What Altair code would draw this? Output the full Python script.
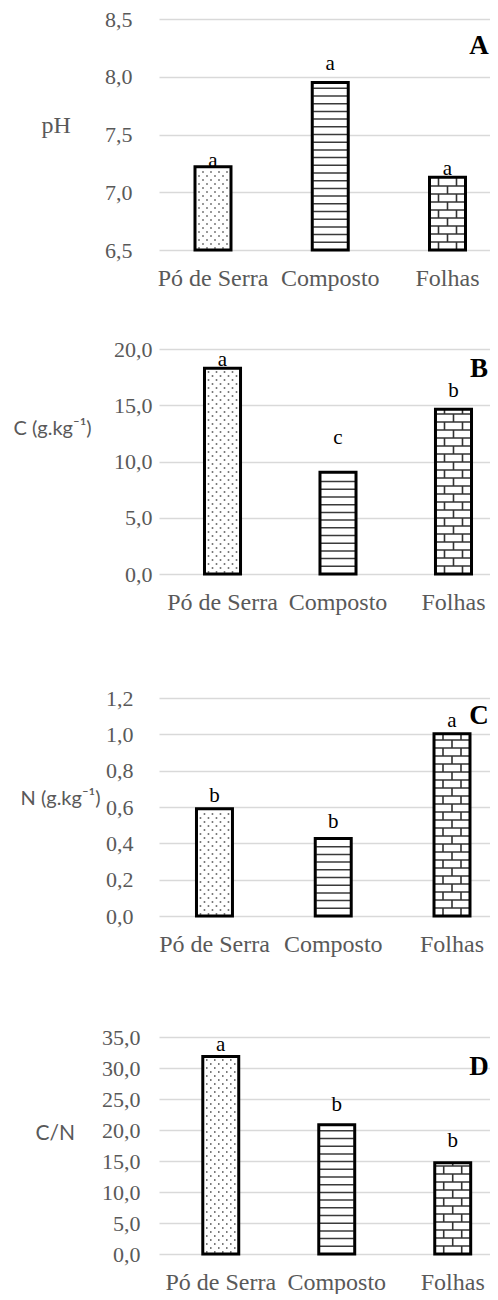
import altair as alt
import numpy as np
import pandas as pd

# ---------------- data ----------------
categories = ["Pó de Serra", "Composto", "Folhas"]

ph_values = [7.22, 7.95, 7.13]
ph_letters = ["a", "a", "a"]
ph_letter_y = [7.27, 8.11, 7.20]
ph_ticks = [6.5, 7.0, 7.5, 8.0, 8.5]

c_values = [18.28, 9.04, 14.64]
c_letters = ["a", "c", "b"]
c_letter_y = [19.0, 12.05, 16.3]
c_ticks = [0.0, 5.0, 10.0, 15.0, 20.0]

n_values = [0.590, 0.427, 1.003]
n_letters = ["b", "b", "a"]
n_letter_y = [0.66, 0.517, 1.072]
n_ticks = [0.0, 0.2, 0.4, 0.6, 0.8, 1.0, 1.2]

cn_values = [31.84, 20.83, 14.71]
cn_letters = ["a", "b", "b"]
cn_letter_y = [33.7, 24.1, 18.3]
cn_ticks = [0.0, 5.0, 10.0, 15.0, 20.0, 25.0, 30.0, 35.0]

# ---------------- style ----------------
SERIF = "Liberation Serif, Times New Roman, Times, serif"
SANS = "Lato, Carlito, Calibri, Open Sans, sans-serif"
GRAY = "#595959"
W = 331

panels = [
    dict(vals=ph_values, letters=ph_letters, ly=ph_letter_y, ticks=ph_ticks,
         title="pH", tfont=SERIF, tsize=24, tx=-118, ty=106, lpad=27, h=231,
         pi=0.693, po=0.258, align=0.595, tag="A", tagdx=31.5, tagy=27),
    dict(vals=c_values, letters=c_letters, ly=c_letter_y, ticks=c_ticks,
         title="C (g.kg⁻¹)", tfont=SANS, tsize=20, tx=-146, ty=79, lpad=7, h=225,
         pi=0.688, po=0.277, align=0.711, tag="B", tagdx=25.5, tagy=20),
    dict(vals=n_values, letters=n_letters, ly=n_letter_y, ticks=n_ticks,
         title="N (g.kg⁻¹)", tfont=SANS, tsize=20, tx=-139, ty=100, lpad=26, h=218,
         pi=0.697, po=0.242, align=0.652, tag="C", tagdx=27, tagy=18),
    dict(vals=cn_values, letters=cn_letters, ly=cn_letter_y, ticks=cn_ticks,
         title="C/N", tfont=SANS, tsize=21, tx=-124, ty=96, lpad=19, h=217,
         pi=0.690, po=0.272, align=0.694, tag="D", tagdx=26.3, tagy=30),
]


def make_panel(p):
    lo, hi = p["ticks"][0], p["ticks"][-1]
    upp = (hi - lo) / p["h"]  # data units per pixel
    vals = p["vals"]

    xscale = alt.Scale(domain=categories, paddingInner=p["pi"],
                       paddingOuter=p["po"], align=p["align"])
    yscale = alt.Scale(domain=[lo, hi], zero=False, nice=False)
    xaxis = alt.Axis(title=None, labelAngle=0, labelFont=SERIF, labelFontSize=24,
                     labelColor=GRAY, labelPadding=16, ticks=False, tickSize=0,
                     domain=False, grid=False)
    yaxis = alt.Axis(values=p["ticks"], title=p["title"], titleAngle=0,
                     titleAlign="left", titleBaseline="middle",
                     titleX=p["tx"], titleY=p["ty"], titleFont=p["tfont"],
                     titleFontSize=p["tsize"], titleFontWeight="normal",
                     titleColor=GRAY, labelFont=SERIF, labelFontSize=22,
                     labelColor=GRAY, labelPadding=p["lpad"], ticks=False,
                     tickSize=0, domain=False, grid=True, gridColor="#d9d9d9",
                     gridWidth=1.3,
                     labelExpr="replace(format(datum.value, '.1f'), '.', ',')")
    X = alt.X("cat:N", scale=xscale, axis=xaxis, sort=categories)

    def Y(field):
        return alt.Y(field, scale=yscale, axis=yaxis)

    bars = pd.DataFrame({"cat": categories, "v": vals, "letter": p["letters"],
                         "ly": p["ly"]})

    layers = []
    layers.append(alt.Chart(bars).mark_bar(fill="white", strokeWidth=0)
                  .encode(x=X, y=Y("v:Q"), y2=alt.datum(lo)))

    # ---- pattern: horizontal stripes (Composto) ----
    top = vals[1]
    s = 7.7 * upp
    ys = [lo + k * s for k in range(1, 400) if lo + k * s < top - 0.4 * s]
    layers.append(alt.Chart(pd.DataFrame({"cat": "Composto", "y": ys}))
                  .mark_tick(size=34, thickness=1.5, color="#3a3a3a", opacity=1)
                  .encode(x=X, y=Y("y:Q")))

    # ---- pattern: bricks (Folhas) ----
    top = vals[2]
    b = 8.0 * upp
    ys = [lo + k * b for k in range(1, 400) if lo + k * b < top - 0.4 * b]
    layers.append(alt.Chart(pd.DataFrame({"cat": "Folhas", "y": ys}))
                  .mark_tick(size=34, thickness=1.6, color="#333333", opacity=1)
                  .encode(x=X, y=Y("y:Q")))
    rows = []
    k = 0
    while lo + k * b < top - 0.4 * b:
        rows.append({"cat": "Folhas", "y0": lo + k * b,
                     "y1": min(lo + (k + 1) * b, top), "par": k % 2})
        k += 1
    rdf = pd.DataFrame(rows)
    for par, offs in [(0, [-9, 9]), (1, [0])]:
        sub = rdf[rdf["par"] == par]
        for o in offs:
            layers.append(alt.Chart(sub).mark_rule(xOffset=o, strokeWidth=1.6,
                                                   color="#333333")
                          .encode(x=X, y=Y("y0:Q"), y2="y1:Q"))

    # ---- pattern: dots (Pó de Serra) ----
    top = vals[0]
    d = 4.0 * upp
    drows = [(lo + (k + 0.5) * d, k % 2) for k in range(0, 800)
             if lo + (k + 0.5) * d < top - 1.5 * upp]
    ddf = pd.DataFrame({"cat": "Pó de Serra", "y": [r[0] for r in drows],
                        "par": [r[1] for r in drows]})
    for par, offs in [(0, [-14, -6, 2, 10]), (1, [-10, -2, 6, 14])]:
        sub = ddf[ddf["par"] == par]
        for o in offs:
            layers.append(alt.Chart(sub).mark_square(xOffset=o, size=2.5,
                                                     color="#555555", opacity=1)
                          .encode(x=X, y=Y("y:Q")))

    # ---- outline ----
    layers.append(alt.Chart(bars).mark_bar(fill="white", fillOpacity=0,
                                           stroke="black", strokeWidth=3,
                                           strokeJoin="miter")
                  .encode(x=X, y=Y("v:Q"), y2=alt.datum(lo)))

    # ---- significance letters ----
    layers.append(alt.Chart(bars).mark_text(font=SERIF, fontSize=21,
                                            color="black", baseline="middle")
                  .encode(x=X, y=Y("ly:Q"), text="letter:N"))

    # ---- panel tag (placed relative to the last band) ----
    layers.append(alt.Chart(pd.DataFrame({"cat": ["Folhas"], "tag": [p["tag"]]}))
                  .mark_text(font=SERIF, fontSize=27, fontWeight="bold",
                             color="black", baseline="middle", align="center",
                             dx=p["tagdx"])
                  .encode(x=X, y=alt.value(p["tagy"]), text="tag:N"))

    return alt.layer(*layers).properties(width=W, height=p["h"])


pA, pB, pC, pD = [make_panel(p) for p in panels]

chart = alt.vconcat(
    pA,
    alt.vconcat(pB, alt.vconcat(pC, pD, spacing=70), spacing=73),
    spacing=48,
).configure(
    padding={"left": 5, "top": 0, "right": 0, "bottom": 0}
).configure_axis(
    labelFont=SERIF, titleFont=SANS
).configure_view(stroke=None)

chart.save("out.html", embed_options={"renderer": "svg", "actions": False})
